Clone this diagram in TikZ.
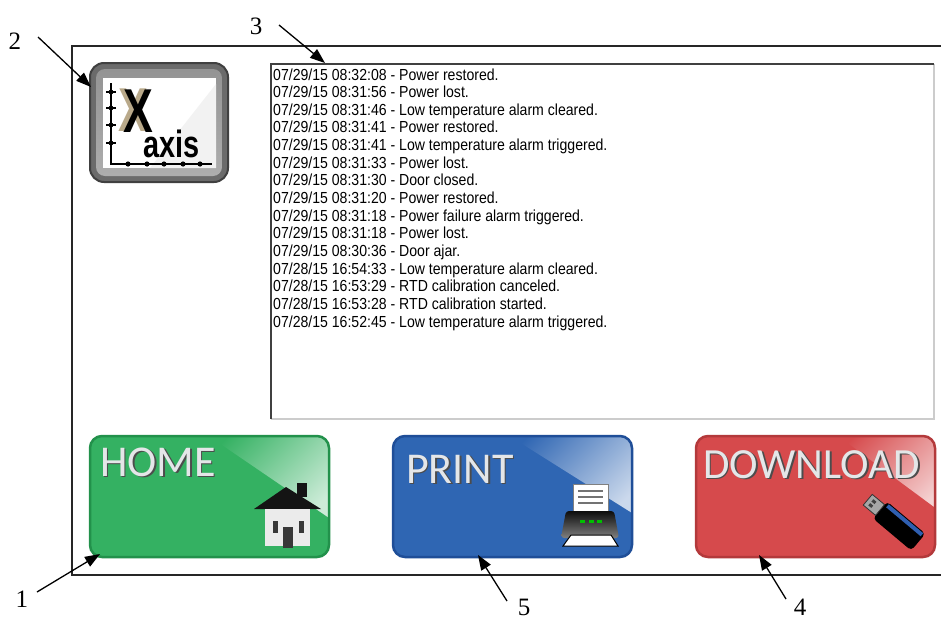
\documentclass[tikz,border=0pt]{standalone}
\usepackage{fontspec}
\usetikzlibrary{arrows.meta,calc}
\newfontfamily\logfont{Liberation Sans}
\newfontfamily\btnfont{Carlito}
\newfontfamily\lblfont{Liberation Serif}
\newfontfamily\iconfont{Liberation Sans}
\definecolor{homeg}{HTML}{34B162}
\definecolor{homeb}{HTML}{22914B}
\definecolor{printb}{HTML}{2F66B3}
\definecolor{printd}{HTML}{1F4E98}
\definecolor{dlr}{HTML}{D64A4C}
\definecolor{dld}{HTML}{B3393B}
\definecolor{btntext}{HTML}{E4E6E8}
\definecolor{xtan}{HTML}{B9A98A}
\definecolor{usbblue}{HTML}{2F5FB0}
\begin{document}
\begin{tikzpicture}[x=1pt,y=-1pt,
  lbl/.style={font=\lblfont\fontsize{25}{25}\selectfont, inner sep=0},
  callout/.style={line width=1.3pt, -{Triangle[length=15pt,width=11pt]}},
  btn/.style={rectangle, rounded corners=12pt, minimum width=239pt, minimum height=121pt, inner sep=0, outer sep=0},
  logline/.style={anchor=base west, inner sep=0, font=\logfont\fontsize{16}{18}\selectfont},
  btnlabel/.style={anchor=base west, inner sep=0, font=\btnfont\fontsize{44}{44}\selectfont},
]
\useasboundingbox (0,0) rectangle (941,621);
\fill[white] (0,0) rectangle (941,621);

% outer frame
\draw[line width=1.3pt, black!85] (941,46) -- (72,46) -- (72,575) -- (941,575);

% log box
\node[rectangle, minimum width=663pt, minimum height=355pt, inner sep=0, outer sep=0, fill=white] (log) at (602.5,241.5) {};
\draw[black!20, line width=1.5pt] (log.north east) -- (log.south east) -- (log.south west);
\draw[black!75, line width=2pt] (log.south west) -- (log.north west) -- (log.north east);

\node[logline] (l1)  at (273,80.0)  {\scalebox{0.88}[1]{07/29/15 08:32:08 - Power restored.}};
\node[logline] (l2)  at (273,97.6)  {\scalebox{0.88}[1]{07/29/15 08:31:56 - Power lost.}};
\node[logline] (l3)  at (273,115.3) {\scalebox{0.88}[1]{07/29/15 08:31:46 - Low temperature alarm cleared.}};
\node[logline] (l4)  at (273,132.9) {\scalebox{0.88}[1]{07/29/15 08:31:41 - Power restored.}};
\node[logline] (l5)  at (273,150.6) {\scalebox{0.88}[1]{07/29/15 08:31:41 - Low temperature alarm triggered.}};
\node[logline] (l6)  at (273,168.2) {\scalebox{0.88}[1]{07/29/15 08:31:33 - Power lost.}};
\node[logline] (l7)  at (273,185.8) {\scalebox{0.88}[1]{07/29/15 08:31:30 - Door closed.}};
\node[logline] (l8)  at (273,203.5) {\scalebox{0.88}[1]{07/29/15 08:31:20 - Power restored.}};
\node[logline] (l9)  at (273,221.1) {\scalebox{0.88}[1]{07/29/15 08:31:18 - Power failure alarm triggered.}};
\node[logline] (l10) at (273,238.8) {\scalebox{0.88}[1]{07/29/15 08:31:18 - Power lost.}};
\node[logline] (l11) at (273,256.4) {\scalebox{0.88}[1]{07/29/15 08:30:36 - Door ajar.}};
\node[logline] (l12) at (273,274.0) {\scalebox{0.88}[1]{07/28/15 16:54:33 - Low temperature alarm cleared.}};
\node[logline] (l13) at (273,291.7) {\scalebox{0.88}[1]{07/28/15 16:53:29 - RTD calibration canceled.}};
\node[logline] (l14) at (273,309.3) {\scalebox{0.88}[1]{07/28/15 16:53:28 - RTD calibration started.}};
\node[logline] (l15) at (273,327.0) {\scalebox{0.88}[1]{07/28/15 16:52:45 - Low temperature alarm triggered.}};

% X axis icon
\node[rectangle, rounded corners=14pt, minimum width=138pt, minimum height=119pt, inner sep=0, outer sep=0, fill=black!58, draw=black!75, line width=2pt] (xicon) at (159,122.5) {};
\shade[rounded corners=9pt, top color=black!42, bottom color=black!32] (96,69) rectangle (222,176);
\fill[white] (103,78) rectangle (216,168);
\fill[black!5] (150,168) -- (216,84) -- (216,168) -- cycle;
\node[anchor=base west, inner sep=0, font=\iconfont\bfseries\fontsize{62}{62}\selectfont, text=xtan] (xsh) at (118,131) {\scalebox{0.72}[1]{X}};
\node[anchor=base west, inner sep=0, font=\iconfont\bfseries\fontsize{62}{62}\selectfont] (xx) at (123,132) {\scalebox{0.72}[1]{X}};
\node[anchor=base west, inner sep=0, font=\iconfont\bfseries\fontsize{38}{38}\selectfont] (xaxis) at (143,157) {\scalebox{0.76}[1]{axis}};
\draw[black, line width=2.6pt] (111,83) -- (111,164) -- (212,164);
\foreach \yy in {92,108,125,143} {\draw[black, line width=2.2pt] (106,\yy) -- (116,\yy); \fill (111,\yy) circle (2.4pt);}
\foreach \xx in {128,147,164,183,200} {\fill (\xx,164) circle (2.6pt);}

% HOME button
\node[btn, fill=homeg] (home) at (209.5,496.5) {};
\begin{scope}
\clip[rounded corners=12pt] (home.south west) rectangle (home.north east);
\shade[left color=homeg, right color=homeg!25!white, shading angle=45] (200,430) -- (335,430) -- (335,522) -- cycle;
\end{scope}
\draw[homeb, line width=2.5pt, rounded corners=12pt] (home.south west) rectangle (home.north east);
\node[btnlabel, text=black!70] (homes) at (101.5,477.5) {HOME};
\node[btnlabel, text=btntext] (homet) at (100,476) {HOME};
\fill[black!92] (254,509) -- (286,487) -- (321,509) -- cycle;
\fill[black!92] (297,483) rectangle (307,497);
\fill[black!8] (265,509) rectangle (310,546);
\fill[black!78] (273,521) rectangle (278,533);
\fill[black!78] (299,521) rectangle (304,533);
\fill[black!78] (283,527) rectangle (293,548);

% PRINT button
\node[btn, fill=printb] (print) at (512.5,496.5) {};
\begin{scope}
\clip[rounded corners=12pt] (print.south west) rectangle (print.north east);
\shade[left color=printb, right color=printb!25!white, shading angle=45] (500,430) -- (640,430) -- (640,518) -- cycle;
\end{scope}
\draw[printd, line width=2.5pt, rounded corners=12pt] (print.south west) rectangle (print.north east);
\node[btnlabel, text=black!70] (prints) at (407.5,484.5) {PRINT};
\node[btnlabel, text=btntext] (printt) at (406,483) {PRINT};
\filldraw[fill=white, draw=black!50, line width=0.8pt] (573,484) rectangle (608,513);
\foreach \yy in {491,497,503} {\draw[black!55, line width=1.2pt] (578,\yy) -- (603,\yy);}
\shade[top color=black!95, bottom color=black!50, rounded corners=3pt] (566,511) -- (614,511) -- (619,538) -- (561,538) -- cycle;
\foreach \xx in {582,591,599} {\fill[green!75!black] (\xx-2.5,520) rectangle (\xx+2.5,522.5);}
\filldraw[fill=white, draw=black, line width=1pt] (571,535) -- (611,535) -- (618,546) -- (563,546) -- cycle;

% DOWNLOAD button
\node[btn, fill=dlr] (dl) at (815.5,496.5) {};
\begin{scope}
\clip[rounded corners=12pt] (dl.south west) rectangle (dl.north east);
\shade[left color=dlr, right color=dlr!25!white, shading angle=45] (830,430) -- (945,430) -- (945,515) -- cycle;
\end{scope}
\draw[dld, line width=2.5pt, rounded corners=12pt] (dl.south west) rectangle (dl.north east);
\node[btnlabel, text=black!70, font=\btnfont\fontsize{43}{43}\selectfont] (dls) at (704.5,479.5) {DOWNLOAD};
\node[btnlabel, text=btntext, font=\btnfont\fontsize{43}{43}\selectfont] (dlt) at (703,478) {DOWNLOAD};
\begin{scope}[shift={(880,510)}, rotate=-40]
  \fill[black, rounded corners=4pt] (0,-11) rectangle (50,11);
  \fill[usbblue] (3,-10) rectangle (48,-6);
  \filldraw[fill=black!35, draw=black!80, line width=0.8pt] (-16,-7) rectangle (0,7);
  \fill[black!75] (-12,-4) rectangle (-8,-1);
  \fill[black!75] (-12,1) rectangle (-8,4);
\end{scope}

% callout labels
\node[lbl] (n2) at (15,41) {2};
\node[lbl] (n3) at (256,26) {3};
\node[lbl] (n1) at (22,599) {1};
\node[lbl] (n5) at (524,607) {5};
\node[lbl] (n4) at (800,607) {4};
\coordinate (s2) at (38,37);  \coordinate (t2) at (91,87);
\coordinate (s3) at (279,25); \coordinate (t3) at (325,63);
\coordinate (s1) at (37,592); \coordinate (t1) at (100,554);
\coordinate (s5) at (507,601); \coordinate (t5) at (478,555);
\coordinate (s4) at (786,599); \coordinate (t4) at (759,555);
\draw[callout] (s2) -- (t2);
\draw[callout] (s3) -- (t3);
\draw[callout] (s1) -- (t1);
\draw[callout] (s5) -- (t5);
\draw[callout] (s4) -- (t4);
\end{tikzpicture}
\end{document}
